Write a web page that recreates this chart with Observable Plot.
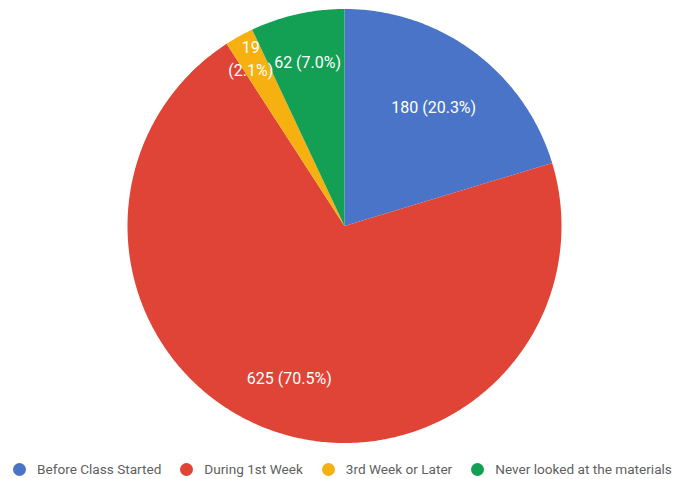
<!DOCTYPE html>
<html>
<head>
<meta charset="utf-8">
<script src="https://cdn.jsdelivr.net/npm/d3@7"></script>
<script src="https://cdn.jsdelivr.net/npm/@observablehq/plot@0.6"></script>
<style>
  html, body { margin: 0; padding: 0; background: #fff; }
  #chart { width: 676px; font-family: Roboto, sans-serif; overflow: hidden; }
  .legend { display: flex; justify-content: flex-start; align-items: center; height: 28px; padding-left: 13px; font-size: 13.6px; color: #5f5f5f; white-space: nowrap; }
  .legend .item { display: flex; align-items: center; margin-right: 19px; }
  .legend .dot { width: 13px; height: 13px; border-radius: 50%; margin-right: 11px; flex: none; }
</style>
</head>
<body>
<div id="chart"></div>
<script>
const categories = ["Before Class Started", "During 1st Week", "3rd Week or Later", "Never looked at the materials"];
const counts = [180, 625, 19, 62];
const percentLabels = ["20.3%", "70.5%", "2.1%", "7.0%"];
const colors = ["#4a74c8", "#df4437", "#f6b111", "#13a055"];

// styling: label distance from centre as fraction of radius
const labelRadius = [0.69, 0.74, 0.89, 0.78];

const pie = d3.pie().sort(null).value(d => d)(counts);

// build slice outlines in unit-circle coordinates (angle 0 at top, clockwise)
const slicePts = [];
pie.forEach((s, i) => {
  slicePts.push({cat: categories[i], x: 0, y: 0});
  const n = Math.max(2, Math.ceil((s.endAngle - s.startAngle) / 0.01));
  for (let k = 0; k <= n; k++) {
    const a = s.startAngle + (s.endAngle - s.startAngle) * k / n;
    slicePts.push({cat: categories[i], x: Math.sin(a), y: Math.cos(a)});
  }
});

const labels = pie.map((s, i) => {
  const a = (s.startAngle + s.endAngle) / 2;
  const r = labelRadius[i];
  const text = counts[i] < 30 ? `${counts[i]}\n(${percentLabels[i]})` : `${counts[i]} (${percentLabels[i]})`;
  return {x: r * Math.sin(a), y: r * Math.cos(a), text};
});

const cx = 344, cy = 225.5, R = 217;
const W = 676, H = 455;

const plot = Plot.plot({
  width: W,
  height: H,
  marginLeft: cx - R,
  marginRight: W - (cx + R),
  marginTop: cy - R,
  marginBottom: H - (cy + R),
  x: {domain: [-1, 1], axis: null},
  y: {domain: [-1, 1], axis: null},
  color: {domain: categories, range: colors},
  style: {fontFamily: "Roboto, sans-serif", background: "#fff"},
  marks: [
    Plot.line(slicePts, {x: "x", y: "y", z: "cat", fill: "cat", stroke: "none", curve: "linear-closed"}),
    Plot.text(labels, {x: "x", y: "y", text: "text", fill: "#fff", fontSize: 16, lineHeight: 1.45})
  ]
});

const chart = document.getElementById("chart");
chart.appendChild(plot);

const legend = document.createElement("div");
legend.className = "legend";
categories.forEach((c, i) => {
  const item = document.createElement("div");
  item.className = "item";
  const dot = document.createElement("span");
  dot.className = "dot";
  dot.style.background = colors[i];
  const lab = document.createElement("span");
  lab.textContent = c;
  item.appendChild(dot);
  item.appendChild(lab);
  legend.appendChild(item);
});
chart.appendChild(legend);
</script>
</body>
</html>
